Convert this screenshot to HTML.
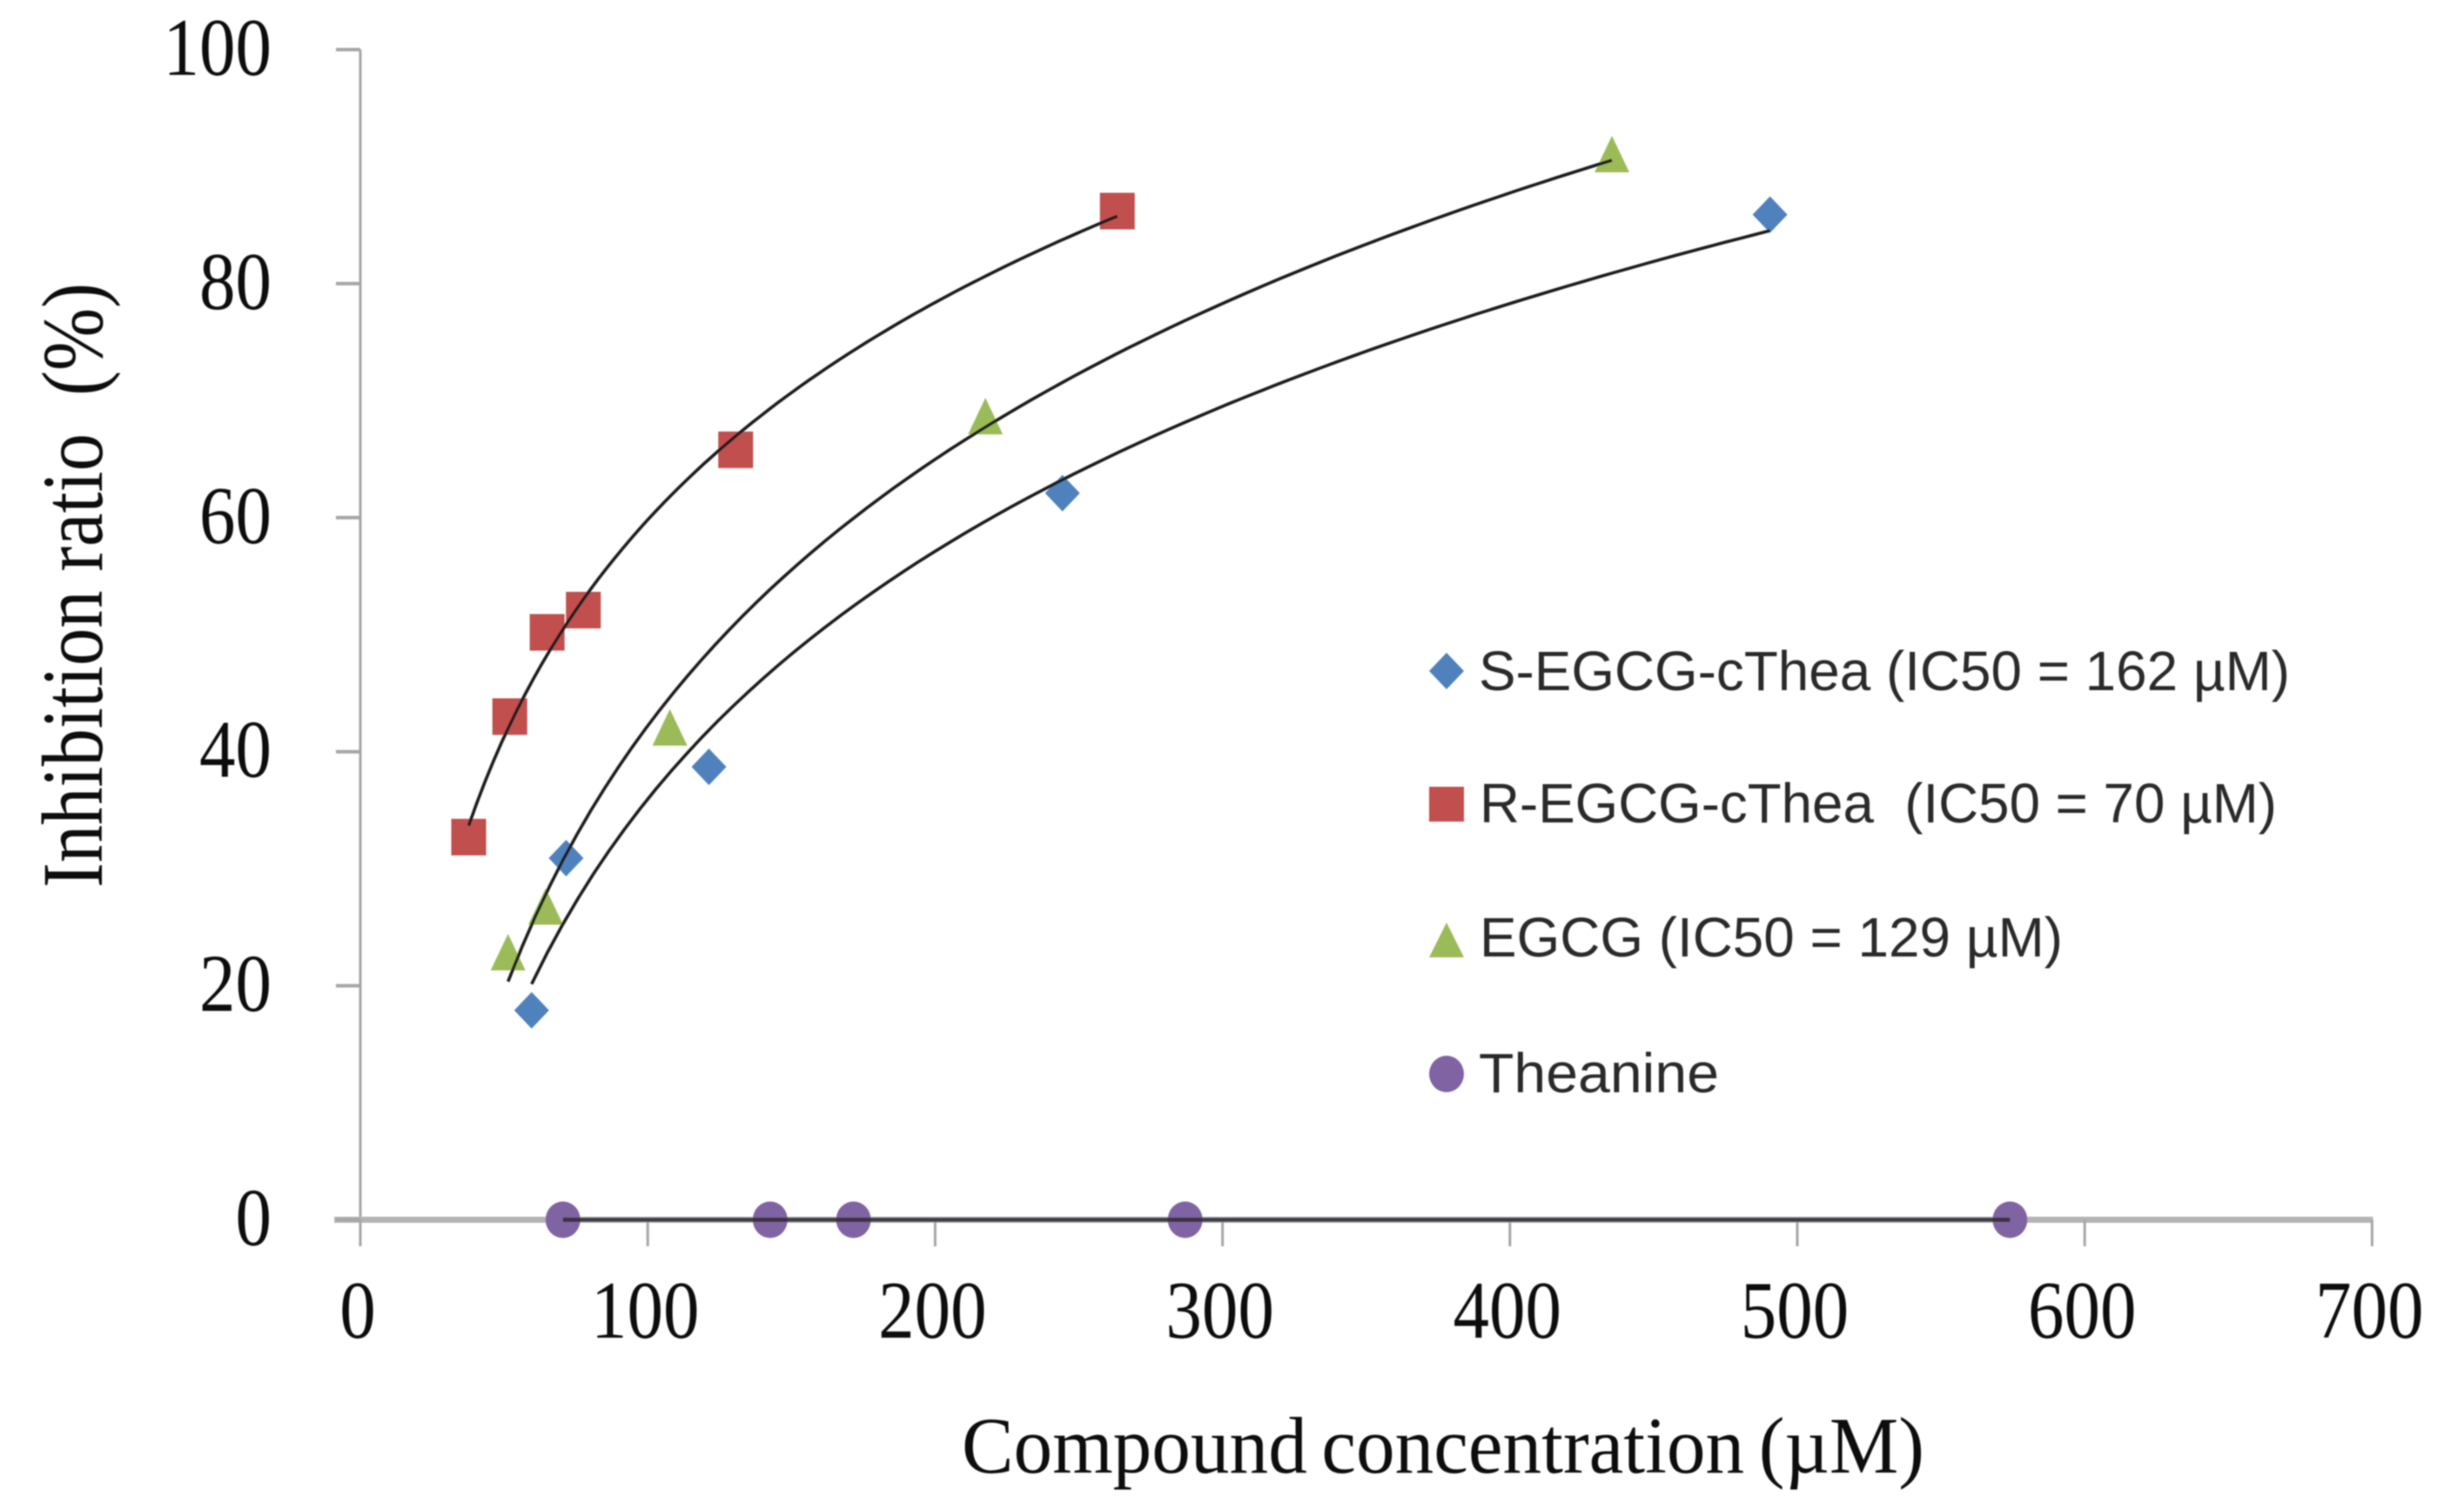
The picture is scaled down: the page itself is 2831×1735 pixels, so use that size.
<!DOCTYPE html>
<html lang="en">
<head>
<meta charset="utf-8">
<title>Inhibition ratio vs compound concentration</title>
<style>
html,body{margin:0;padding:0;background:#fff;width:2831px;height:1735px;overflow:hidden}
svg{display:block}
.serif{font-family:"Liberation Serif",serif;fill:#111}
.sans{font-family:"Liberation Sans",sans-serif;fill:#2a2a2a;font-size:64px}
</style>
</head>
<body>
<svg id="chart" xmlns="http://www.w3.org/2000/svg" width="2831" height="1735" viewBox="0 0 2831 1735">
  <defs><filter id="soft" x="-2%" y="-2%" width="104%" height="104%"><feGaussianBlur stdDeviation="0.9"/></filter></defs>
  <g id="root" filter="url(#soft)">
    <g id="axes"></g>
    <g id="marks"></g>
    <text class="serif" x="1105" y="1692" font-size="92" word-spacing="-6" textLength="1106" lengthAdjust="spacingAndGlyphs">Compound concentration (µM)</text>
    <text class="serif" transform="translate(117,1020) rotate(-90)" font-size="100" textLength="695" lengthAdjust="spacingAndGlyphs" xml:space="preserve">Inhibition ratio  (%)</text>
    <g>
      <polygon points="1662,750 1682,771 1662,792 1642,771" fill="#4F81BD"/>
      <text class="sans" x="1699" y="793" textLength="932" lengthAdjust="spacingAndGlyphs">S-EGCG-cThea (IC50 = 162 µM)</text>
      <rect x="1642" y="904" width="40" height="40" fill="#C0504D"/>
      <text class="sans" x="1700" y="945" textLength="916" lengthAdjust="spacingAndGlyphs" xml:space="preserve">R-EGCG-cThea  (IC50 = 70 µM)</text>
      <polygon points="1662,1060 1682,1100 1642,1100" fill="#9BBB59"/>
      <text class="sans" x="1700" y="1099" textLength="670" lengthAdjust="spacingAndGlyphs">EGCG (IC50 = 129 µM)</text>
      <ellipse cx="1662" cy="1234" rx="20" ry="21" fill="#8064A2"/>
      <text class="sans" x="1699" y="1255" textLength="276" lengthAdjust="spacingAndGlyphs">Theanine</text>
    </g>
  </g>
</svg>
<script>
// Chart data
const xTicks = [0, 100, 200, 300, 400, 500, 600, 700];
const yTicks = [0, 20, 40, 60, 80, 100];
const sEgcgX = [59.6, 71.6, 121.3, 244.3, 490.5];
const sEgcgY = [17.9, 30.9, 38.7, 62.1, 85.9];
const rEgcgX = [37.7, 52, 65, 77.6, 130.6, 263.4];
const rEgcgY = [32.7, 43, 50.2, 52.1, 65.8, 86.2];
const egcgX = [51.4, 64.5, 107.7, 217.5, 435.5];
const egcgY = [22.8, 26.7, 42, 68.6, 91];
const theanineX = [70.5, 142.6, 171.6, 287, 574];
const theanineY = [0, 0, 0, 0, 0];

const NS = 'http://www.w3.org/2000/svg';
const xScale = v => 414 + v * 3.302;
const yScale = v => 1401.5 - v * 13.445;
const axes = document.getElementById('axes');
const marks = document.getElementById('marks');

function make(tag, parent, props) {
  const el = document.createElementNS(NS, tag);
  for (const k in props) el.setAttribute(k, props[k]);
  parent.appendChild(el);
  return el;
}

// Axes
const yLine = make('line', axes, {x1: xScale(0), x2: xScale(0), y1: yScale(100), y2: 1432, stroke: '#a6a6a6', 'stroke-width': 3});


const xLine = make('line', axes, {x1: 384, x2: xScale(700) + 1, y1: yScale(0), y2: yScale(0), stroke: '#b4b4b4', 'stroke-width': 7});



xTicks.forEach(t => {
  const tick = make('line', axes, {x1: xScale(t), x2: xScale(t), y1: yScale(0), y2: 1432, stroke: '#a6a6a6', 'stroke-width': 3});
  
  
  const label = make('text', axes, {class: 'serif', x: xScale(t) - 3, y: 1537, 'font-size': 94, 'text-anchor': 'middle', textLength: 41.5 * String(t).length, lengthAdjust: 'spacingAndGlyphs'});
  label.textContent = String(t);
  
  
});

yTicks.forEach(t => {
  const tick = make('line', axes, {x1: 386, x2: xScale(0), y1: yScale(t), y2: yScale(t), stroke: '#a6a6a6', 'stroke-width': 4});
  
  
  const label = make('text', axes, {class: 'serif', x: 312, y: yScale(t) + 29, 'font-size': 94, 'text-anchor': 'end', textLength: 41.5 * String(t).length, lengthAdjust: 'spacingAndGlyphs'});
  label.textContent = String(t);
  
  
});

// Markers
function drawMarker(shape, color, cx, cy) {
  if (shape === 'diamond') {
    return make('polygon', marks, {points: `${cx},${cy - 21} ${cx + 20},${cy} ${cx},${cy + 21} ${cx - 20},${cy}`, fill: color});
  }
  if (shape === 'square') {
    return make('rect', marks, {x: cx - 20, y: cy - 21, width: 40, height: 42, fill: color});
  }
  if (shape === 'triangle') {
    return make('polygon', marks, {points: `${cx},${cy - 22} ${cx + 20},${cy + 20} ${cx - 20},${cy + 20}`, fill: color});
  }
  return make('ellipse', marks, {cx: cx, cy: cy, rx: 20, ry: 21, fill: color});
}

// Logarithmic trendline: least-squares fit of y on ln(x), drawn across the series range
function drawLogTrend(xs, ys, name) {
  const lx = xs.map(Math.log);
  const n = xs.length;
  const mx = lx.reduce((a, b) => a + b, 0) / n;
  const my = ys.reduce((a, b) => a + b, 0) / n;
  let num = 0, den = 0;
  lx.forEach((v, i) => { num += (v - mx) * (ys[i] - my); den += (v - mx) * (v - mx); });
  const a = num / den;
  const b = my - a * mx;
  const lo = Math.min(...xs), hi = Math.max(...xs);
  const pts = [];
  for (let i = 0; i <= 80; i++) {
    const x = lo + (hi - lo) * i / 80;
    pts.push(xScale(x).toFixed(1) + ',' + yScale(a * Math.log(x) + b).toFixed(1));
  }
  const line = make('polyline', marks, {points: pts.join(' '), fill: 'none', stroke: '#1c1c1c', 'stroke-width': 3.6});
  
  
}

function drawPoints(xs, ys, shape, color, name) {
  xs.forEach((x, i) => {
    const m = drawMarker(shape, color, xScale(x), yScale(ys[i]));
    
    
  });
}

drawPoints(theanineX, theanineY, 'circle', '#8064A2', 'theanine');
const theanineLine = make('polyline', marks, {points: theanineX.map((x, i) => xScale(x) + ',' + yScale(theanineY[i])).join(' '), fill: 'none', stroke: '#2e2a33', 'stroke-width': 5, opacity: 0.85});



drawPoints(sEgcgX, sEgcgY, 'diamond', '#4F81BD', 's-egcg');
drawPoints(rEgcgX, rEgcgY, 'square', '#C0504D', 'r-egcg');
drawPoints(egcgX, egcgY, 'triangle', '#9BBB59', 'egcg');
drawLogTrend(sEgcgX, sEgcgY, 's-egcg');
drawLogTrend(rEgcgX, rEgcgY, 'r-egcg');
drawLogTrend(egcgX, egcgY, 'egcg');
</script>
</body>
</html>
